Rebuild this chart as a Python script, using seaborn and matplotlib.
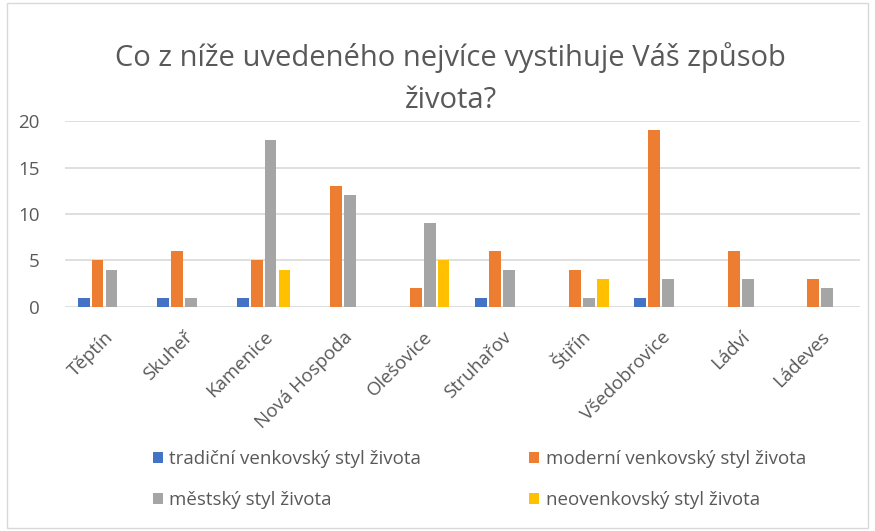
import matplotlib
matplotlib.use("Agg")
import matplotlib.pyplot as plt
import seaborn as sns
import pandas as pd
from matplotlib.patches import Rectangle

categories = ["Těptín", "Skuheř", "Kamenice", "Nová Hospoda", "Olešovice",
              "Struhařov", "Štiřín", "Všedobrovice", "Ládví", "Ládeves"]
series_names = ["tradiční venkovský styl života", "moderní venkovský styl života",
                "městský styl života", "neovenkovský styl života"]
tradicni = [1, 1, 1, 0, 0, 1, 0, 1, 0, 0]
moderni = [5, 6, 5, 13, 2, 6, 4, 19, 6, 3]
mestsky = [4, 1, 18, 12, 9, 4, 1, 3, 3, 2]
neovenkovsky = [0, 0, 4, 0, 5, 0, 3, 0, 0, 0]
yticks = [0, 5, 10, 15, 20]
colors = ["#4472C4", "#ED7D31", "#A5A5A5", "#FFC000"]

rows = []
for name, vals in zip(series_names, [tradicni, moderni, mestsky, neovenkovsky]):
    for c, v in zip(categories, vals):
        rows.append({"obec": c, "styl": name, "pocet": v})
df = pd.DataFrame(rows)

sns.set_theme(style="white")
plt.rcParams['font.family'] = ['Open Sans', 'DejaVu Sans']
txt = "#595959"

fig = plt.figure(figsize=(8.75, 5.31), dpi=100)
ax = fig.add_axes([0.074, 0.422, 0.909, 0.350])

sns.barplot(data=df, x="obec", y="pocet", hue="styl", order=categories,
            hue_order=series_names, palette=colors, width=0.7, gap=0.15,
            ax=ax, legend=True, saturation=1, linewidth=0, errorbar=None)

ax.set_xlim(-0.5, len(categories) - 0.5)
ax.set_ylim(0, 20)
ax.set_yticks(yticks)
ax.set_yticklabels([str(t) for t in yticks], color=txt, fontsize=13.5)
ax.yaxis.grid(True, color="#D9D9D9", linewidth=1.2)
ax.set_axisbelow(True)
for s in ax.spines.values():
    s.set_visible(False)
ax.tick_params(axis="both", length=0)
ax.tick_params(axis="y", pad=18)
ax.set_xlabel("")
ax.set_ylabel("")
ax.set_xticks(range(len(categories)))
ax.set_xticklabels(categories, rotation=45, ha="right", rotation_mode="anchor",
                   color=txt, fontsize=13.5)
ax.tick_params(axis="x", pad=15)

handles, labels = ax.get_legend_handles_labels()
ax.legend_.remove()
order = [0, 2, 1, 3]
fig.legend([handles[i] for i in order], [labels[i] for i in order],
           loc="lower left", bbox_to_anchor=(0.155, 0.009),
           ncol=2, frameon=False, fontsize=13.5, labelcolor=txt,
           handlelength=0.55, handleheight=0.55, handletextpad=0.35,
           columnspacing=5.75, labelspacing=1.25)

fig.text(0.515, 0.92, "Co z níže uvedeného nejvíce vystihuje Váš způsob\nživota?",
         ha="center", va="top", fontsize=21, color=txt, linespacing=1.55)

fig.patches.append(Rectangle((0.008, 0.005), 0.984, 0.99, transform=fig.transFigure,
                             fill=False, edgecolor="#D9D9D9", linewidth=1))

fig.savefig("out.png", dpi=100)
